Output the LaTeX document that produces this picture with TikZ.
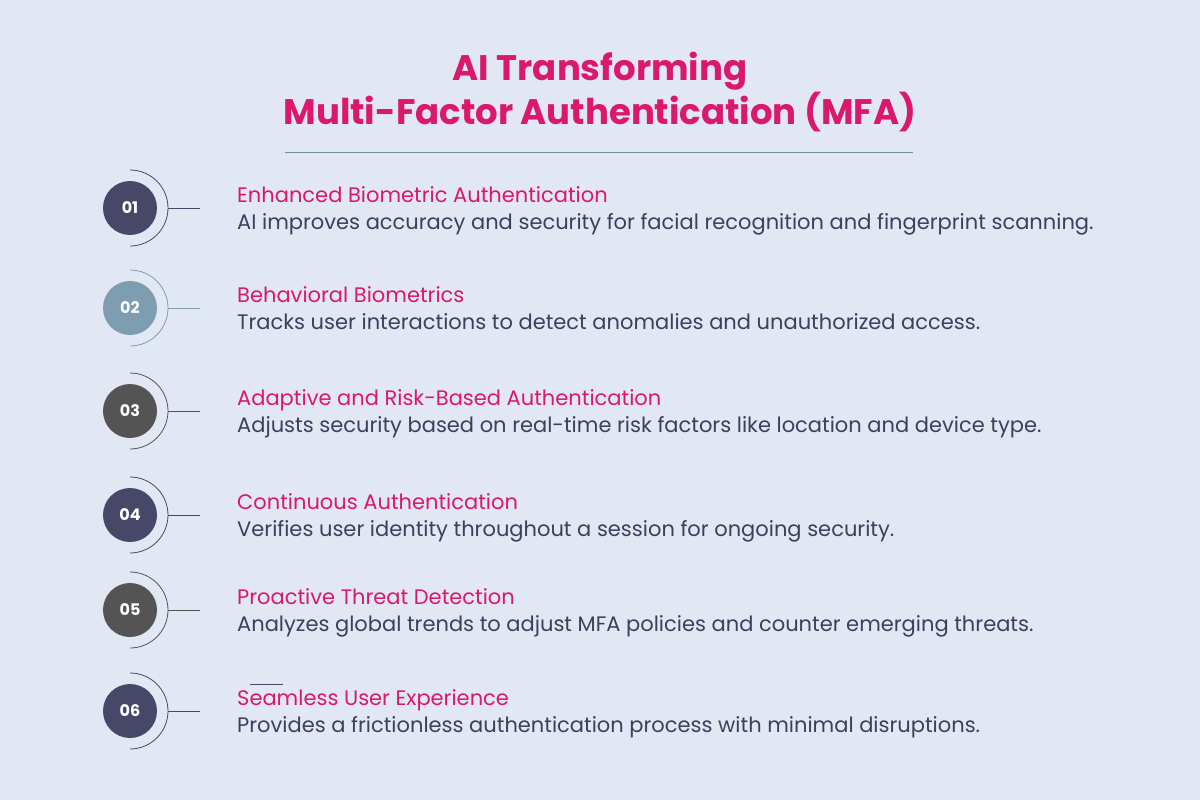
\documentclass[tikz,border=0pt]{standalone}
\usepackage{fontspec}
\setmainfont{Poppins}
\definecolor{bgblue}{HTML}{E1E8F4}
\definecolor{pinkred}{HTML}{D9186E}
\definecolor{navy}{HTML}{474767}
\definecolor{slate}{HTML}{7E9DB0}
\definecolor{darkgray}{HTML}{545454}
\definecolor{textgray}{HTML}{3E3F5B}
\tikzset{
  numdot/.style={circle, fill=#1, minimum size=54pt, inner sep=0pt, text=white, font=\fontsize{16}{16}\selectfont\bfseries},
  headtext/.style={anchor=base west, text=pinkred, font=\fontsize{21}{21}\selectfont\mdseries, inner sep=0pt},
  desctext/.style={anchor=base west, text=textgray, font=\fontsize{21}{21}\selectfont, inner sep=0pt}
}
\begin{document}
\begin{tikzpicture}[x=1pt,y=-1pt]
\fill[bgblue] (0,0) rectangle (1200,800);
\useasboundingbox (0,0) rectangle (1200,800);

\node[text=pinkred, font=\fontsize{35.5}{41}\selectfont\bfseries, align=center] (title) at (600,92) {AI Transforming\\Multi-Factor Authentication (MFA)};
\coordinate (rulea) at (285,152);
\coordinate (ruleb) at (913,152);
\draw[slate!80!navy, line width=0.6pt] (rulea) -- (ruleb);

\foreach \n/\y/\col/\head/\desc in {
  01/208/navy/Enhanced Biometric Authentication/AI improves accuracy and security for facial recognition and fingerprint scanning.,
  02/308/slate/Behavioral Biometrics/Tracks user interactions to detect anomalies and unauthorized access.,
  03/411/darkgray/Adaptive and Risk-Based Authentication/Adjusts security based on real-time risk factors like location and device type.,
  04/515/navy/Continuous Authentication/Verifies user identity throughout a session for ongoing security.,
  05/610/darkgray/Proactive Threat Detection/Analyzes global trends to adjust MFA policies and counter emerging threats.,
  06/711/navy/Seamless User Experience/Provides a frictionless authentication process with minimal disruptions.}
{
  \node[numdot=\col] (c\n) at (130,\y) {\n};
  \draw[\col, line width=0.8pt] ([shift={(0,-38)}]c\n.center) arc[start angle=-90, end angle=90, radius=38];
  \coordinate (t\n) at (200,\y);
  \draw[\col, line width=0.8pt] ([xshift=38]c\n.center) -- (t\n);
  \node[headtext] (h\n) at (237,\y-6) {\head};
  \node[desctext] (d\n) at (237,\y+21) {\desc};
}
\coordinate (marka) at (250,684);
\coordinate (markb) at (283,684);
\draw[navy, line width=0.8pt] (marka) -- (markb);
\end{tikzpicture}
\end{document}
